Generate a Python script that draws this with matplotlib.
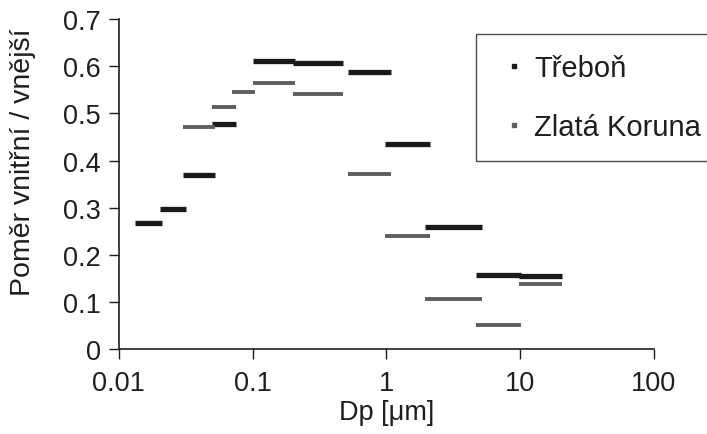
import numpy as np
import matplotlib
matplotlib.use('Agg')
from matplotlib import pyplot as plt
from matplotlib.lines import Line2D

plt.rcParams['font.family'] = ['Liberation Sans', 'DejaVu Sans']

# size bins [um], lower / upper edge
bin_lo = [0.0133, 0.0205, 0.0304, 0.050, 0.070, 0.100, 0.200, 0.514, 0.97, 1.93, 4.70, 9.8]
bin_hi = [0.0212, 0.0320, 0.0526, 0.0754, 0.1044, 0.207, 0.472, 1.075, 2.13, 5.2, 10.2, 20.5]

# inner / outer ratio
trebon = [0.268, 0.297, 0.370, 0.478, np.nan, 0.611, 0.607, 0.587, 0.435, 0.258, 0.157, 0.155]
zlata = [np.nan, np.nan, 0.470, 0.513, 0.546, 0.565, 0.540, 0.371, 0.240, 0.106, 0.051, 0.138]

xticks = [0.01, 0.1, 1, 10, 100]
xticklabels = ['0.01', '0.1', '1', '10', '100']
yticks = [0, 0.1, 0.2, 0.3, 0.4, 0.5, 0.6, 0.7]
yticklabels = ['0', '0.1', '0.2', '0.3', '0.4', '0.5', '0.6', '0.7']

c_treb = '#1a1a1a'
c_zlata = '#5e5e5e'
c_txt = '#1e1e1e'

fig = plt.figure(figsize=(7.07, 4.35), dpi=100)
ax = fig.add_axes([0.168, 0.195, 0.757, 0.759])

ax.hlines(trebon, bin_lo, bin_hi, colors=c_treb, lw=3.8)
ax.hlines(zlata, bin_lo, bin_hi, colors=c_zlata, lw=2.8)

ax.set_xscale('log')
ax.set_xlim(0.01, 100)
ax.set_ylim(0, 0.7)
ax.set_xticks(xticks)
ax.set_xticklabels(xticklabels)
ax.set_yticks(yticks)
ax.set_yticklabels(yticklabels)
ax.minorticks_off()
ax.tick_params(direction='out', length=7, width=1, labelsize=19.5, colors=c_txt)
ax.tick_params(axis='x', pad=8)
ax.tick_params(axis='y', pad=6)

for s in ['top', 'right']:
    ax.spines[s].set_visible(False)
for s in ['left', 'bottom']:
    ax.spines[s].set_color(c_txt)
    ax.spines[s].set_linewidth(1.2)

ax.set_xlabel('Dp [μm]', fontsize=19.5, color=c_txt)
ax.set_ylabel('Poměr vnitřní / vnější', fontsize=20.5, color=c_txt)
ax.xaxis.set_label_coords(0.5, -0.15)
ax.yaxis.set_label_coords(-0.155, 0.57)

handles = [
    Line2D([], [], ls='none', marker='s', ms=3.5, color=c_treb),
    Line2D([], [], ls='none', marker='s', ms=3.5, color=c_zlata),
]
leg = fig.legend(handles, ['Třeboň', 'Zlatá Koruna'], loc='upper left',
                 bbox_to_anchor=(0.673, 0.92), bbox_transform=fig.transFigure,
                 fontsize=21, frameon=True, fancybox=False, borderpad=0.7,
                 labelspacing=1.05, handlelength=1.2, handletextpad=0.1,
                 borderaxespad=0)
leg.get_frame().set_edgecolor(c_txt)
leg.get_frame().set_linewidth(1.0)
for t in leg.get_texts():
    t.set_color(c_txt)

fig.savefig('out.png', dpi=100)
